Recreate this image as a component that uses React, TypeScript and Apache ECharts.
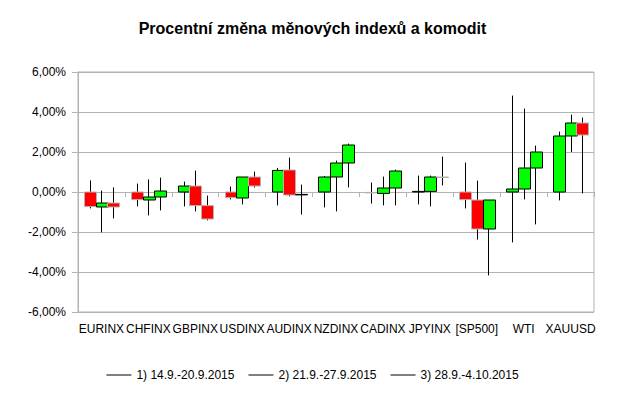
import React, { useEffect, useRef } from "react";
import * as echarts from "echarts";

const categories = ["EURINX", "CHFINX", "GBPINX", "USDINX", "AUDINX", "NZDINX", "CADINX", "JPYINX", "[SP500]", "WTI", "XAUUSD"];

const seriesNames = ["1) 14.9.-20.9.2015", "2) 21.9.-27.9.2015", "3) 28.9.-4.10.2015"];

// [open, close, low, high] in % per category
const week1 = [
  [0, -0.73, -0.82, 0.58],
  [0, -0.38, -0.72, 0.42],
  [0, 0.3, -0.72, 0.52],
  [0, -0.28, -0.37, 0.27],
  [0, 1.08, -0.67, 1.2],
  [0, 0.75, -0.77, 0.8],
  [-0.02, -0.03, -0.58, 0.47],
  [0, 0.03, -0.62, 0.82],
  [0, -0.38, -0.82, 1.47],
  [0, 0.15, -2.52, 4.82],
  [0, 2.8, -0.42, 3.02],
];
const week2 = [
  [-0.75, -0.55, -2.02, 0.07],
  [-0.4, -0.25, -1.17, 0.63],
  [0.3, -0.68, -0.97, 1.07],
  [-0.3, 0.75, -0.62, 0.75],
  [1.1, -0.15, -0.22, 1.72],
  [0.75, 1.45, -0.97, 1.57],
  [-0.07, 0.2, -0.67, 0.77],
  [0.03, 0.75, -0.72, 0.82],
  [-0.4, -1.85, -2.38, 0.57],
  [0.15, 1.2, -0.37, 4.17],
  [2.8, 3.45, 2.0, 3.87],
];
const week3 = [
  [-0.55, -0.75, -1.32, 0.23],
  [-0.25, 0.05, -0.92, 0.72],
  [-0.68, -1.35, -1.42, -0.18],
  [0.75, 0.3, 0.22, 1.02],
  [-0.13, -0.12, -1.13, 0.37],
  [1.45, 2.35, 0.23, 2.42],
  [0.2, 1.05, -0.67, 1.12],
  [0.75, 0.74, 0.33, 1.77],
  [-1.85, -0.4, -4.17, -0.4],
  [1.2, 2.0, -1.62, 2.32],
  [3.45, 2.85, -0.07, 3.72],
];

const yTicks = { min: -6, max: 6, interval: 2 };

const FONT = "'Liberation Sans', Arial, sans-serif";

export default function App() {
  const ref = useRef<HTMLDivElement>(null);
  useEffect(() => {
    if (!ref.current) return;
    const chart = echarts.init(ref.current, null, { renderer: "svg" });
    const weeks = [week1, week2, week3];
    const makeSeries = (idx: number) => ({
      type: "custom",
      name: seriesNames[idx],
      itemStyle: { color: "#000" },
      encode: { x: 0, y: [1, 2, 3, 4] },
      data: weeks[idx].map((d, i) => [i, d[0], d[1], d[2], d[3]]),
      renderItem: (params: any, api: any) => {
        const cat = api.value(0);
        const open = api.value(1);
        const close = api.value(2);
        const low = api.value(3);
        const high = api.value(4);
        const band = api.size([1, 0])[0];
        const w = band * 0.25;
        const center = api.coord([cat, 0])[0] + (idx - 1) * w;
        const yO = api.coord([cat, open])[1];
        const yC = api.coord([cat, close])[1];
        const yL = api.coord([cat, low])[1];
        const yH = api.coord([cat, high])[1];
        const rising = close > open;
        const top = Math.min(yO, yC);
        const h = Math.max(Math.abs(yO - yC), 0.5);
        const xs = Math.round(center) + 0.5;
        return {
          type: "group",
          children: [
            {
              type: "line",
              shape: { x1: xs, y1: yH, x2: xs, y2: yL },
              style: { stroke: "#000", lineWidth: 1 },
            },
            {
              type: "rect",
              shape: { x: Math.round(center - w / 2) + 0.5, y: top, width: Math.round(w), height: h },
              style: {
                fill: rising ? "#00ff00" : "#ff0000",
                stroke: rising ? "#000" : "#b3b3b3",
                lineWidth: 1,
              },
            },
          ],
        };
      },
    });
    chart.setOption({
      animation: false,
      backgroundColor: "#fff",
      title: {
        text: "Procentní změna měnových indexů a komodit",
        left: "center",
        top: 15,
        textStyle: { fontSize: 16, fontWeight: "bold", fontFamily: FONT, color: "#000" },
      },
      legend: {
        data: seriesNames,
        left: "center",
        top: 364,
        icon: "rect",
        itemWidth: 25,
        itemHeight: 1,
        itemGap: 14,
        textStyle: { fontSize: 12, fontFamily: FONT, color: "#000" },
      },
      grid: {
        left: 78,
        right: 31,
        top: 72,
        bottom: 83,
        show: true,
        borderColor: "#b3b3b3",
        borderWidth: 1,
      },
      xAxis: {
        type: "category",
        data: categories,
        boundaryGap: true,
        axisLine: { lineStyle: { color: "#b3b3b3" } },
        axisTick: { show: true, length: 5, lineStyle: { color: "#b3b3b3" } },
        axisLabel: { interval: 0, fontSize: 12, fontFamily: FONT, color: "#000", margin: 11 },
        splitLine: { show: false },
      },
      yAxis: {
        type: "value",
        min: yTicks.min,
        max: yTicks.max,
        interval: yTicks.interval,
        axisLine: { show: true, lineStyle: { color: "#b3b3b3" } },
        axisTick: { show: true, length: 6, lineStyle: { color: "#b3b3b3" } },
        splitLine: { lineStyle: { color: "#b3b3b3" } },
        axisLabel: {
          fontSize: 12,
          fontFamily: FONT,
          color: "#000",
          margin: 12,
          formatter: (v: number) => v.toFixed(2).replace(".", ",") + "%",
        },
      },
      series: [makeSeries(0), makeSeries(1), makeSeries(2)],
    });
    return () => chart.dispose();
  }, []);
  return <div ref={ref} style={{ position: "fixed", left: 0, top: 0, width: 625, height: 395 }} />;
}
